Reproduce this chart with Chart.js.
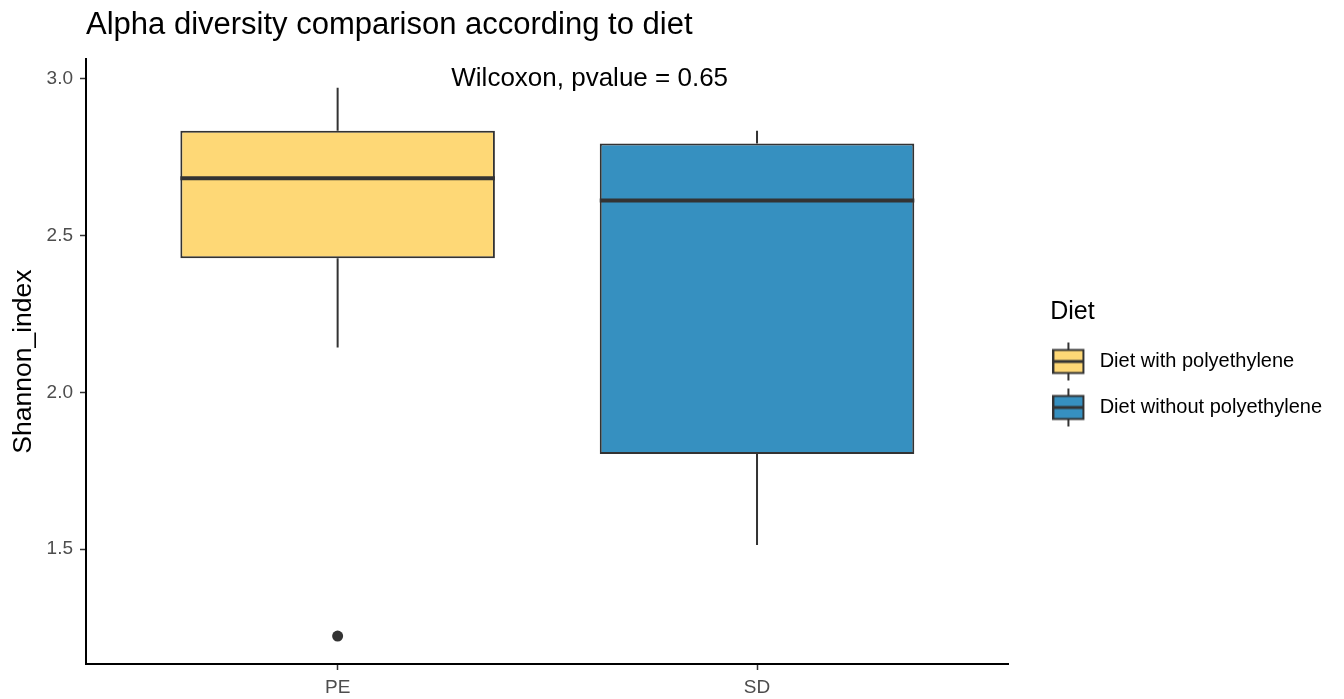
<!DOCTYPE html>
<html>
<head>
<meta charset="utf-8">
<script src="https://cdn.jsdelivr.net/npm/chart.js@4.4.1/dist/chart.umd.min.js"></script>
<style>
  html, body { margin: 0; padding: 0; background: #fff; }
  #wrap { width: 1344px; height: 699px; position: relative; }
</style>
</head>
<body>
<div id="wrap"><canvas id="alpha"></canvas></div>
<script>
// group labels and positions on the discrete axis
const groups = ['PE', 'SD']
const groupPos = [1, 2]
const legendLabels = ['Diet with polyethylene', 'Diet without polyethylene']
const fillColors = ['#FED876', '#3690C0']

// box statistics
const whiskerLow = [2.143, 1.513]
const q1 = [2.427, 1.803]
const median = [2.682, 2.611]
const q3 = [2.834, 2.793]
const whiskerHigh = [2.971, 2.834]

// outliers
const outlierX = [1]
const outlierY = [1.223]

const yTicks = [1.5, 2.0, 2.5, 3.0]
const yRange = [1.134, 3.062]
const xRange = [0.4, 2.6]

const FONT = '"Liberation Sans", Arial, sans-serif'
const INK = '#333333'

// legend key: small boxplot glyph, drawn at the left of a wider transparent image
function boxIcon (color) {
  const c = document.createElement('canvas')
  c.width = 61
  c.height = 40
  const g = c.getContext('2d')
  g.strokeStyle = INK
  g.lineWidth = 2
  g.beginPath()
  g.moveTo(16, 1); g.lineTo(16, 39)
  g.stroke()
  g.fillStyle = color
  g.fillRect(1, 8.5, 30, 23)
  g.strokeRect(1, 8.5, 30, 23)
  g.lineWidth = 3
  g.beginPath()
  g.moveTo(1, 20); g.lineTo(31, 20)
  g.stroke()
  return c
}

const boxDatasets = groups.map((g, i) => ({
  type: 'bar',
  label: legendLabels[i],
  data: [{ x: groupPos[i], y: [q1[i], q3[i]] }],
  backgroundColor: fillColors[i],
  borderColor: INK,
  borderWidth: 2,
  borderSkipped: false,
  grouped: false,
  categoryPercentage: 0.75,
  barPercentage: 1,
  pointStyle: boxIcon(fillColors[i]),
  order: 2
}))

const outlierDataset = {
  type: 'scatter',
  label: 'outliers',
  data: outlierX.map((x, i) => ({ x, y: outlierY[i] })),
  backgroundColor: INK,
  borderColor: INK,
  borderWidth: 0,
  pointRadius: 5.5,
  pointHoverRadius: 5.5,
  order: 1
}

// whiskers + medians + test label, placed with the chart's own scales
const boxExtras = {
  id: 'boxExtras',
  afterLayout (chart) {
    // ggplot leaves a gap between panel and legend
    const gap = chart.options.plugins.boxExtras.legendGap
    chart.legend.left += gap
    chart.legend.right += gap
  },
  beforeDatasetsDraw (chart) {
    const ctx = chart.ctx
    const xs = chart.scales.x
    const ys = chart.scales.y
    ctx.save()
    ctx.strokeStyle = INK
    ctx.lineWidth = 2
    groups.forEach((g, i) => {
      const px = xs.getPixelForValue(groupPos[i])
      ctx.beginPath()
      ctx.moveTo(px, ys.getPixelForValue(q3[i]))
      ctx.lineTo(px, ys.getPixelForValue(whiskerHigh[i]))
      ctx.moveTo(px, ys.getPixelForValue(q1[i]))
      ctx.lineTo(px, ys.getPixelForValue(whiskerLow[i]))
      ctx.stroke()
    })
    ctx.restore()
  },
  afterDatasetsDraw (chart) {
    const ctx = chart.ctx
    const ys = chart.scales.y
    ctx.save()
    ctx.strokeStyle = INK
    ctx.lineWidth = 4
    groups.forEach((g, i) => {
      const bar = chart.getDatasetMeta(i).data[0]
      const py = ys.getPixelForValue(median[i])
      ctx.beginPath()
      ctx.moveTo(bar.x - bar.width / 2, py)
      ctx.lineTo(bar.x + bar.width / 2, py)
      ctx.stroke()
    })
    const o = chart.options.plugins.boxExtras
    ctx.fillStyle = '#000'
    ctx.font = '26px ' + FONT
    ctx.textAlign = 'left'
    ctx.textBaseline = 'middle'
    ctx.fillText(o.text, chart.scales.x.getPixelForValue(o.x), ys.getPixelForValue(o.y))
    ctx.restore()
  }
}

new Chart(document.getElementById('alpha').getContext('2d'), {
  type: 'bar',
  data: { datasets: [...boxDatasets, outlierDataset] },
  plugins: [boxExtras],
  options: {
    responsive: true,
    maintainAspectRatio: false,
    animation: false,
    events: [],
    layout: { padding: { left: 0, right: 53.5, top: 0, bottom: 0 } },
    font: { family: FONT },
    scales: {
      x: {
        type: 'linear',
        min: xRange[0],
        max: xRange[1],
        offset: false,
        afterBuildTicks: (s) => { s.ticks = groupPos.map(v => ({ value: v })) },
        afterFit: (s) => { s.height = 35 },
        grid: { offset: false, drawOnChartArea: false, drawTicks: true, tickLength: 6, color: INK, tickWidth: 1.5 },
        border: { display: true, color: '#000', width: 2 },
        ticks: {
          padding: 6,
          color: '#4d4d4d',
          font: { family: FONT, size: 19 },
          callback: (v) => groups[groupPos.indexOf(v)] || ''
        }
      },
      y: {
        min: yRange[0],
        max: yRange[1],
        afterBuildTicks: (s) => { s.ticks = yTicks.map(v => ({ value: v })) },
        afterFit: (s) => { s.width = 86 },
        grid: { drawOnChartArea: false, drawTicks: true, tickLength: 6, color: INK, tickWidth: 1.5 },
        border: { display: true, color: '#000', width: 2 },
        title: {
          display: true,
          text: 'Shannon_index',
          color: '#000',
          font: { family: FONT, size: 26.5 },
          padding: { top: 8, bottom: 0 }
        },
        ticks: {
          padding: 7,
          color: '#4d4d4d',
          font: { family: FONT, size: 19 },
          callback: (v) => v.toFixed(1)
        }
      }
    },
    plugins: {
      boxExtras: { text: 'Wilcoxon, pvalue = 0.65', x: 1.271, y: 3.0, legendGap: 41.5 },
      title: {
        display: true,
        text: 'Alpha diversity comparison according to diet',
        align: 'start',
        fullSize: false,
        color: '#000',
        font: { family: FONT, size: 31, weight: 'normal' },
        padding: { top: 6.4, bottom: 15.5 }
      },
      tooltip: { enabled: false },
      legend: {
        position: 'right',
        align: 'center',
        title: {
          display: true,
          text: 'Diet',
          position: 'start',
          color: '#000',
          font: { family: FONT, size: 25 },
          padding: { top: 44, bottom: -4 }
        },
        labels: {
          usePointStyle: true,
          pointStyleWidth: 13.5,
          color: '#000',
          font: { family: FONT, size: 20 },
          padding: 26,
          filter: (item) => item.datasetIndex < groups.length
        }
      }
    }
  }
})
</script>
</body>
</html>
